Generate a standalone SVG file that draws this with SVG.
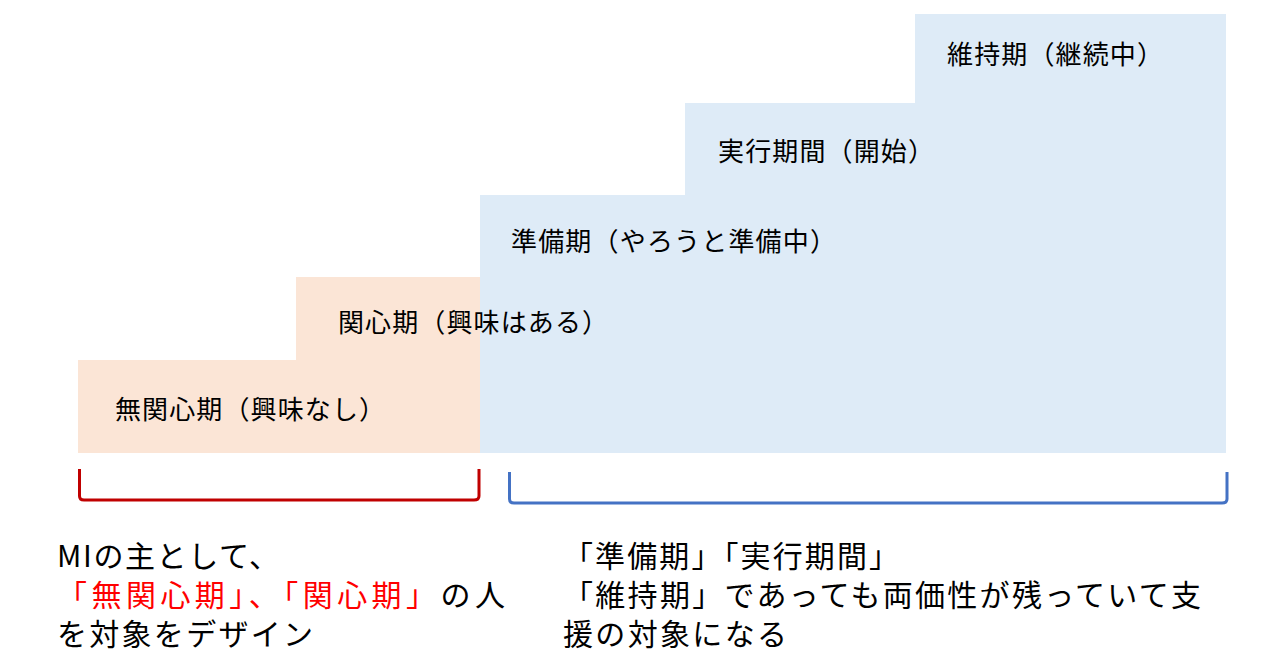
<svg xmlns="http://www.w3.org/2000/svg" width="1280" height="670" viewBox="0 0 1280 670">
<style>
.o{fill:#FBE5D6}.b{fill:#DEEBF7}
text{font-family:"Noto Sans CJK JP","Noto Sans",sans-serif;fill:#000}
.s{font-size:26px}.l{font-size:30px}.r{fill:#FF0000}
</style>
<g id="steps">
<g id="n1"><rect class="o" x="78" y="360" width="402" height="93"/><text class="s" x="115" y="419" textLength="270" lengthAdjust="spacing">無関心期（興味なし）</text></g>
<g id="n2"><rect class="o" x="296" y="277" width="184" height="84"/></g>
<g id="n3"><rect class="b" x="480" y="195" width="746" height="258"/></g>
<g id="n4"><rect class="b" x="685" y="103" width="541" height="93"/><text class="s" x="718" y="161" textLength="216" lengthAdjust="spacing">実行期間（開始）</text></g>
<g id="n5"><rect class="b" x="915" y="14" width="311" height="90"/><text class="s" x="947" y="64" textLength="216" lengthAdjust="spacing">維持期（継続中）</text></g>
<text class="s" x="338" y="332" textLength="270" lengthAdjust="spacing">関心期（興味はある）</text>
<text class="s" x="511" y="251" textLength="325" lengthAdjust="spacing">準備期（やろうと準備中）</text>
</g>
<g id="connectors" fill="none" stroke-width="3">
<path d="M79.5 469 V496 Q79.5 500 84 500 H474 Q479 500 479 496 V469" stroke="#C00000"/>
<path d="M509.5 472 V499 Q509.5 503 514 503 H1222 Q1227 503 1227 499 V472" stroke="#4472C4"/>
</g>
<g id="notes">
<text class="l" x="57" y="567" textLength="222" lengthAdjust="spacing">MIの主として、</text>
<text class="l" x="57" y="606" textLength="448" lengthAdjust="spacing"><tspan class="r">「無関心期」、「関心期」</tspan>の人</text>
<text class="l" x="57" y="645" textLength="256" lengthAdjust="spacing">を対象をデザイン</text>
<text class="l" x="563" y="567" textLength="336" lengthAdjust="spacing">「準備期」「実行期間」</text>
<text class="l" x="563" y="606" textLength="638" lengthAdjust="spacing">「維持期」であっても両価性が残っていて支</text>
<text class="l" x="563" y="645" textLength="224" lengthAdjust="spacing">援の対象になる</text>
</g>
</svg>
